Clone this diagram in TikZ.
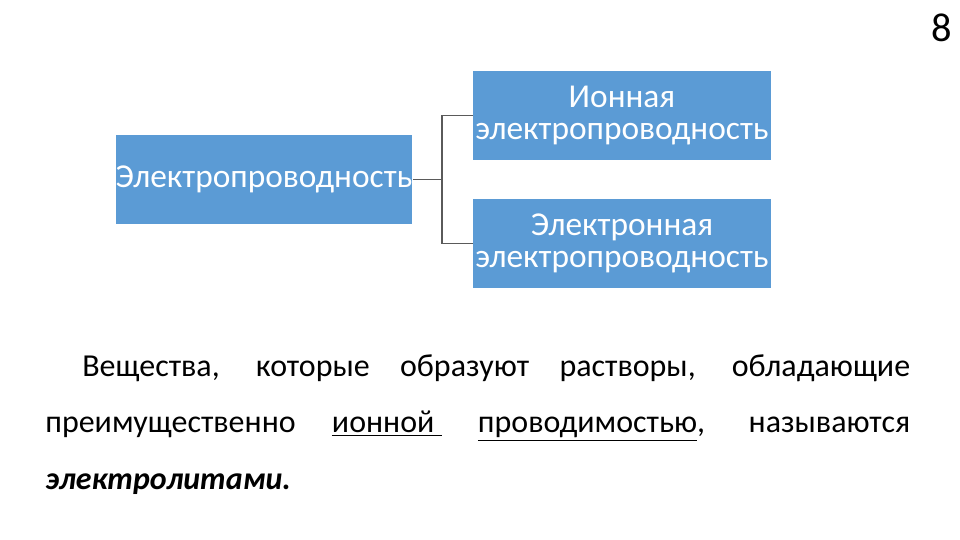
\documentclass[tikz,border=0pt]{standalone}
\usepackage{fontspec}
\setmainfont{Carlito}
\usepackage{xcolor}
\usetikzlibrary{positioning}
\definecolor{boxblue}{HTML}{5B9BD5}
\definecolor{linegray}{HTML}{5A5A5A}

\begin{document}
\begin{tikzpicture}[
        x=0.02cm, y=-0.02cm,
        block/.style={fill=boxblue, text=white, minimum width=5.96cm, minimum height=1.78cm,
            inner sep=0pt, align=center, font=\fontsize{19}{18.5}\selectfont},
        textline/.style={anchor=base west, inner sep=0pt, font=\fontsize{18.2}{20}\selectfont},
        branch/.style={draw=linegray, line width=0.6pt}
    ]
    \useasboundingbox (0,0) rectangle (960,540);

    % Nodes
    \node[block, minimum width=5.92cm] (cond) at (264,179.5) {Электропроводность};
    \node[block] (ion) at (622,115.5) {Ионная\\электропроводность};
    \node[block] (elec) at (622,243.5) {Электронная\\электропроводность};
    \coordinate (fork) at (442,179.5);

    % Edges
    \draw[branch] (cond.east) -- (fork);
    \draw[branch] (fork) |- (ion.west);
    \draw[branch] (fork) |- (elec.west);

    % Text
    \node[textline] (line1) at (82,377) {\makebox[16.56cm][s]{Вещества, которые образуют растворы, обладающие}};
    \node[textline] (line2) at (45,433) {\makebox[17.3cm][s]{преимущественно \underline{ионной\ } \underline{проводимостью}, называются}};
    \node[textline] (line3) at (45,489) {\textbf{\textit{электролитами.}}};

    % Page number
    \node[anchor=base east, inner sep=0pt, font=\fontsize{23}{26}\selectfont] (page) at (952,42) {8};
\end{tikzpicture}
\end{document}
